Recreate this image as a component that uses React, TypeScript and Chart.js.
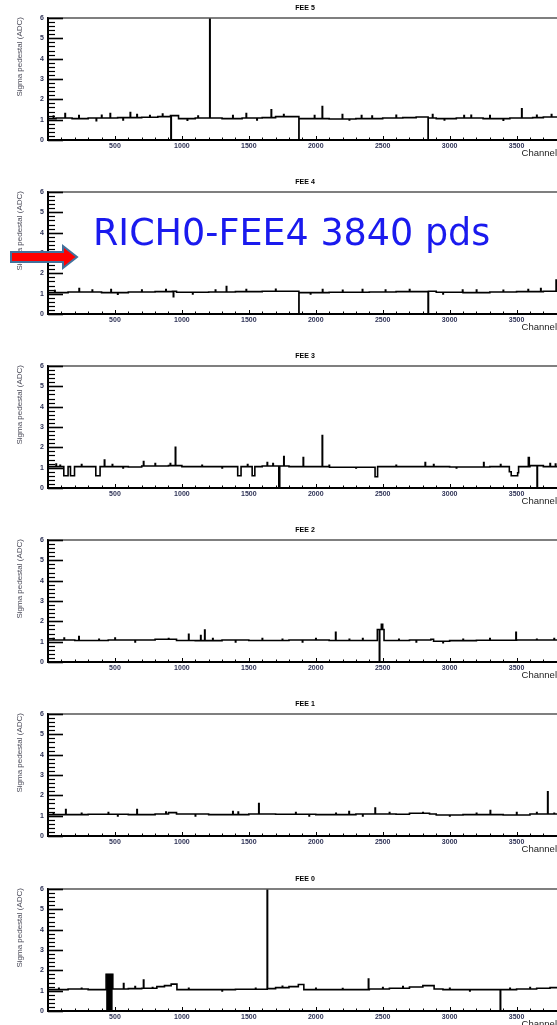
import React, { useEffect, useRef } from "react";
import { Chart, registerables } from "chart.js";

Chart.register(...registerables);

// ---------- data ----------
const X_MAX = 3802;
const SPIKE_W = 3;
const panelTitles = ["FEE 5", "FEE 4", "FEE 3", "FEE 2", "FEE 1", "FEE 0"];
const xTickLabels = [500, 1000, 1500, 2000, 2500, 3000, 3500];
const yTickLabels = [0, 1, 2, 3, 4, 5, 6];
const yMax = 6;

// baseline levels: [start channel, sigma]
const fee5Levels = [[0,1.05],[60,1.08],[180,1.05],[300,1.08],[520,1.1],[700,1.12],[820,1.15],[915,1.2],[975,1.05],[1100,1.08],[1300,1.05],[1450,1.08],[1600,1.1],[1700,1.15],[1875,1.05],[2100,1.03],[2300,1.05],[2500,1.08],[2650,1.1],[2750,1.13],[2840,1.08],[2900,1.05],[3050,1.08],[3250,1.05],[3450,1.08],[3620,1.1],[3700,1.13]];
// narrow spikes: [channel, sigma]
const fee5Spikes = [[918,0],[1208,6],[1874,0],[2839,0],[2048,1.64],[3538,1.54],[1667,1.48],[127,1.3],[464,1.3],[614,1.35],[664,1.25],[855,1.28],[1480,1.3],[2198,1.25],[2341,1.2],[2872,1.25],[3107,1.2],[3160,1.22],[40,1.18],[230,1.2],[360,0.95],[400,1.22],[560,0.98],[760,1.2],[1040,0.97],[1120,1.18],[1380,1.2],[1560,0.98],[1760,1.25],[1990,1.2],[2250,0.98],[2420,1.18],[2600,1.22],[2960,0.98],[3300,1.2],[3400,0.97],[3650,1.22],[3760,1.25]];

const fee4Levels = [[0,1.05],[150,1.08],[400,1.05],[600,1.08],[800,1.1],[930,1.12],[960,1.07],[1200,1.08],[1400,1.1],[1600,1.12],[1875,1.05],[2100,1.07],[2400,1.08],[2600,1.1],[2839,1.12],[2900,1.07],[3100,1.05],[3300,1.08],[3500,1.1],[3700,1.12]];
const fee4Spikes = [[1874,0],[2839,0],[3795,1.67],[232,1.25],[1332,1.35],[936,0.85],[2348,1.2],[3586,1.2],[3096,1.18],[50,1.15],[330,1.18],[470,1.2],[520,0.97],[700,1.18],[880,1.2],[1080,0.98],[1250,1.18],[1480,1.2],[1700,1.22],[1960,0.98],[2050,1.2],[2200,1.17],[2520,1.18],[2700,1.2],[2950,0.98],[3200,1.18],[3400,1.17],[3680,1.25]];

const fee3Levels = [[0,1.05],[118,0.6],[150,1.05],[168,0.6],[198,1.05],[357,0.6],[389,1.05],[600,1.03],[700,1.08],[900,1.1],[1000,1.05],[1417,0.6],[1442,1.05],[1525,0.6],[1545,1.05],[1600,1.08],[1800,1.05],[2100,1.02],[2443,0.55],[2462,1.05],[2700,1.05],[3000,1.03],[3300,1.05],[3446,0.8],[3460,0.6],[3508,0.75],[3515,1.05],[3600,1.1],[3700,1.05]];
const fee3Spikes = [[421,1.37],[951,2.0],[713,1.3],[913,1.2],[1637,1.25],[1724,0],[1728,0],[1761,1.55],[1906,1.5],[2048,2.58],[2817,1.25],[3254,1.25],[3588,1.5],[3592,1.5],[3653,0],[60,1.18],[90,1.12],[250,1.15],[480,1.15],[560,0.98],[800,1.2],[1150,1.12],[1300,0.98],[1490,1.15],[1680,1.2],[2100,1.12],[2300,0.98],[2600,1.12],[2880,1.15],[3050,0.98],[3380,1.15],[3750,1.2],[3790,1.18]];

const fee2Levels = [[0,1.08],[200,1.06],[450,1.08],[800,1.12],[960,1.06],[1100,1.05],[1300,1.08],[1500,1.06],[1800,1.08],[2100,1.06],[2460,1.6],[2490,1.85],[2500,1.6],[2510,1.06],[2700,1.08],[2860,1.12],[2880,1.02],[3000,1.05],[3200,1.07],[3500,1.08]];
const fee2Spikes = [[2475,0],[1050,1.36],[1170,1.57],[1140,1.3],[230,1.25],[2148,1.46],[3495,1.46],[40,1.15],[120,1.18],[380,1.12],[500,1.18],[650,0.98],[900,1.15],[1230,1.15],[1400,0.98],[1600,1.15],[1750,1.12],[1900,0.98],[2000,1.15],[2250,1.12],[2350,1.15],[2620,1.12],[2750,0.98],[2950,0.95],[3100,1.12],[3300,1.15],[3650,1.12],[3780,1.15]];

const fee1Levels = [[0,1.05],[300,1.07],[600,1.05],[800,1.08],[900,1.15],[960,1.08],[1200,1.05],[1500,1.08],[1700,1.07],[2000,1.05],[2300,1.08],[2600,1.07],[2700,1.12],[2850,1.08],[2900,1.03],[3100,1.05],[3400,1.03],[3600,1.08]];
const fee1Spikes = [[1574,1.59],[3732,2.17],[2443,1.37],[132,1.3],[664,1.3],[3303,1.25],[2248,1.2],[40,1.12],[250,1.12],[450,1.15],[520,0.98],[880,1.18],[1100,0.98],[1380,1.2],[1420,1.18],[1850,1.15],[1950,0.98],[2150,1.12],[2350,0.98],[2550,1.15],[2800,1.15],[3000,0.98],[3200,1.12],[3500,1.15],[3650,1.15],[3780,1.12]];

const fee0Levels = [[0,1.05],[150,1.08],[300,1.05],[434,1.8],[484,1.08],[600,1.1],[700,1.12],[813,1.2],[870,1.25],[920,1.32],[963,1.05],[1200,1.05],[1400,1.07],[1637,1.1],[1700,1.15],[1800,1.2],[1870,1.3],[1911,1.05],[2100,1.05],[2400,1.08],[2550,1.12],[2700,1.18],[2800,1.25],[2884,1.08],[2950,1.05],[3200,1.05],[3500,1.08],[3650,1.12],[3750,1.15]];
const fee0Spikes = [[564,1.35],[713,1.52],[1637,6],[2393,1.57],[3378,0],[80,1.12],[250,1.12],[650,1.2],[780,1.15],[1050,1.12],[1300,0.98],[1550,1.12],[1750,1.22],[2000,1.12],[2200,1.1],[2500,1.15],[2650,1.2],[3000,1.12],[3150,0.98],[3450,1.12],[3600,1.15]];
// filled block in FEE 0: [start, end, sigma]
const fee0Block = [434, 484, 1.8];

const panelLevels = [fee5Levels, fee4Levels, fee3Levels, fee2Levels, fee1Levels, fee0Levels];
const panelSpikes = [fee5Spikes, fee4Spikes, fee3Spikes, fee2Spikes, fee1Spikes, fee0Spikes];

const overlayText = "RICH0-FEE4 3840 pds";

// ---------- helpers ----------
function buildSteps(levels: number[][], spikes: number[][]) {
  const levelAt = (c: number) => {
    let v = levels[0][1];
    for (const [s, l] of levels) if (s <= c) v = l;
    return v;
  };
  const pts: { x: number; y: number }[] = levels.map(([x, y]) => ({ x, y }));
  for (const [c, v] of spikes) {
    pts.push({ x: c, y: v });
    pts.push({ x: c + SPIKE_W, y: levelAt(c + SPIKE_W) });
  }
  pts.sort((a, b) => a.x - b.x);
  pts.push({ x: X_MAX, y: levelAt(X_MAX) });
  return pts;
}

const TICK_COLOR = "#2e3256";

const decoPlugin = {
  id: "panelDeco",
  afterDraw(chart: any, _args: any, opts: any) {
    const ctx = chart.ctx;
    const { left, right, top, bottom } = chart.chartArea;
    const xs = chart.scales.x;
    const ys = chart.scales.y;
    ctx.save();
    // top frame
    ctx.strokeStyle = "#555";
    ctx.lineWidth = 1.5;
    ctx.beginPath();
    ctx.moveTo(left, top);
    ctx.lineTo(right, top);
    ctx.stroke();
    // y ticks inside
    ctx.strokeStyle = "#000";
    for (let i = 0; i <= yMax * 5; i++) {
      const v = i / 5;
      const py = Math.round(ys.getPixelForValue(v)) + 0.5;
      const major = i % 5 === 0;
      ctx.lineWidth = major ? 1.6 : 1.2;
      ctx.beginPath();
      ctx.moveTo(left, py);
      ctx.lineTo(left + (major ? 15 : 7), py);
      ctx.stroke();
    }
    // x ticks inside
    for (let c = 100; c < X_MAX; c += 100) {
      const px = Math.round(xs.getPixelForValue(c)) + 0.5;
      const major = c % 500 === 0;
      ctx.lineWidth = 1;
      ctx.beginPath();
      ctx.moveTo(px, bottom);
      ctx.lineTo(px, bottom - (major ? 4 : 2.5));
      ctx.stroke();
    }
    // title (centered over full 0-3840 range)
    const fullRight = left + (right - left) * (3840 / X_MAX);
    ctx.fillStyle = "#000";
    ctx.font = 'bold 7px "Liberation Sans", Arial, sans-serif';
    ctx.textAlign = "center";
    ctx.textBaseline = "middle";
    ctx.fillText(opts.title, (left + fullRight) / 2, 8.5);
    // x axis title
    ctx.fillStyle = "#222";
    ctx.font = '9.5px "Liberation Sans", Arial, sans-serif';
    ctx.textAlign = "right";
    ctx.textBaseline = "alphabetic";
    ctx.fillText("Channel", right, 156);
    // y axis title
    ctx.save();
    ctx.translate(20, top - 1);
    ctx.rotate(-Math.PI / 2);
    ctx.fillStyle = "#4a4a58";
    ctx.font = '8px "Liberation Sans", Arial, sans-serif';
    ctx.textAlign = "right";
    ctx.textBaseline = "middle";
    ctx.fillText("Sigma pedestal (ADC)", 0, 0);
    ctx.restore();
    // overlay annotation
    if (opts.overlay) {
      ctx.beginPath();
      ctx.moveTo(11, 78);
      ctx.lineTo(63, 78);
      ctx.lineTo(63, 72);
      ctx.lineTo(77, 83);
      ctx.lineTo(63, 94);
      ctx.lineTo(63, 88);
      ctx.lineTo(11, 88);
      ctx.closePath();
      ctx.fillStyle = "#ff0000";
      ctx.fill();
      ctx.strokeStyle = "#41719c";
      ctx.lineWidth = 2;
      ctx.stroke();
      ctx.fillStyle = "#1a1aee";
      ctx.font = '36.5px "DejaVu Sans", sans-serif';
      ctx.textAlign = "left";
      ctx.textBaseline = "alphabetic";
      ctx.fillText(overlayText, 93, 71);
    }
    ctx.restore();
  },
};

const panelTops = [0, 174, 348, 522, 696, 871];

function Panel({ index }: { index: number }) {
  const ref = useRef<HTMLCanvasElement>(null);
  useEffect(() => {
    if (!ref.current) return;
    const datasets: any[] = [
      {
        data: buildSteps(panelLevels[index], panelSpikes[index]),
        stepped: true,
        borderColor: "#000",
        borderWidth: 1.6,
        pointRadius: 0,
        fill: false,
      },
    ];
    if (index === 5) {
      datasets.push({
        data: [
          { x: fee0Block[0], y: fee0Block[2] },
          { x: fee0Block[1], y: fee0Block[2] },
        ],
        stepped: true,
        borderColor: "#000",
        borderWidth: 1,
        backgroundColor: "#000",
        fill: "origin",
        pointRadius: 0,
      });
    }
    const tickFont = { family: '"Liberation Sans", Arial, sans-serif', size: 7, weight: "bold" as const };
    const chart = new Chart(ref.current, {
      type: "line",
      data: { datasets },
      options: {
        animation: false,
        responsive: false,
        maintainAspectRatio: false,
        events: [],
        layout: { padding: { top: 18, left: 0, right: 0, bottom: 0 } },
        plugins: {
          legend: { display: false },
          tooltip: { enabled: false },
          title: { display: false },
          panelDeco: { title: panelTitles[index], overlay: index === 1 },
        } as any,
        scales: {
          x: {
            type: "linear",
            min: 0,
            max: X_MAX,
            afterBuildTicks: (s: any) => {
              s.ticks = xTickLabels.map((v) => ({ value: v }));
            },
            afterFit: (s: any) => {
              s.height = 34;
            },
            grid: { display: false, drawTicks: false },
            border: { display: true, color: "#000", width: 2 },
            ticks: {
              autoSkip: false,
              maxRotation: 0,
              minRotation: 0,
              padding: 2,
              color: TICK_COLOR,
              font: tickFont,
              callback: (v: any) => String(v),
            },
          },
          y: {
            type: "linear",
            min: 0,
            max: yMax,
            afterBuildTicks: (s: any) => {
              s.ticks = yTickLabels.map((v) => ({ value: v }));
            },
            afterFit: (s: any) => {
              s.width = 48;
            },
            grid: { display: false, drawTicks: false },
            border: { display: true, color: "#000", width: 2 },
            ticks: {
              padding: 4,
              color: TICK_COLOR,
              font: tickFont,
              callback: (v: any) => String(v),
            },
          },
        },
      },
      plugins: [decoPlugin as any],
    });
    return () => chart.destroy();
  }, [index]);
  return (
    <canvas
      ref={ref}
      width={557}
      height={174}
      style={{ position: "absolute", left: 0, top: panelTops[index], width: 557, height: 174, display: "block" }}
    />
  );
}

export default function App() {
  return (
    <div style={{ position: "absolute", left: 0, top: 0, width: 557, height: 1025, background: "#fff", overflow: "hidden" }}>
      {panelTitles.map((_, i) => (
        <Panel key={i} index={i} />
      ))}
    </div>
  );
}
